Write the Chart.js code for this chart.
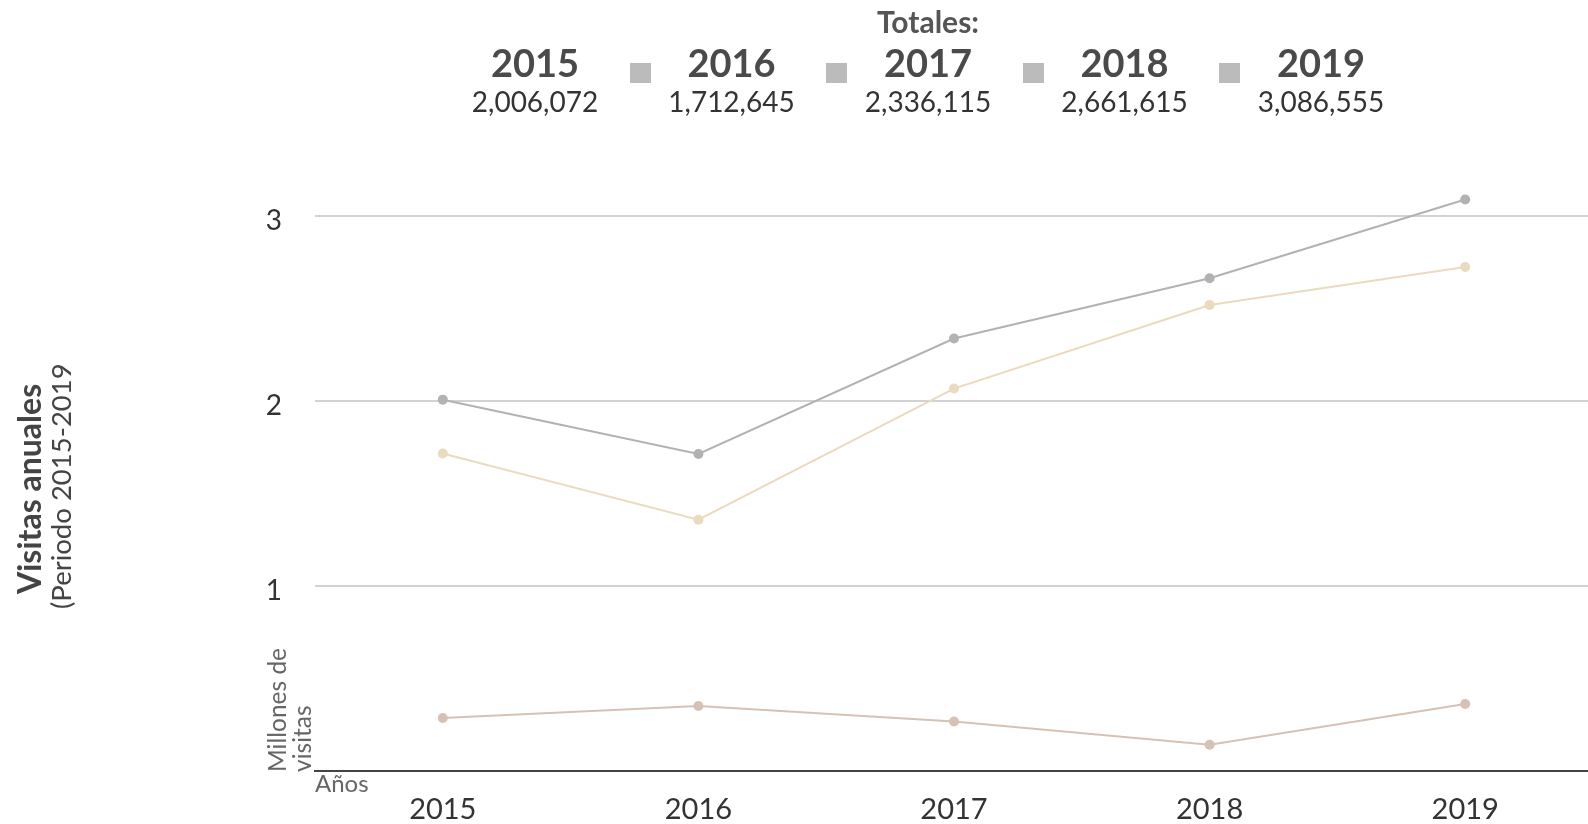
<!DOCTYPE html>
<html>
<head>
<meta charset="utf-8">
<script src="https://cdn.jsdelivr.net/npm/chart.js@4.4.0/dist/chart.umd.min.js"></script>
<style>
  body { margin: 0; background: #fff; overflow: hidden; font-family: Lato, "Open Sans", sans-serif; }
  #wrap { position: relative; width: 1588px; height: 824px; overflow: hidden; }
  #chartBox { position: absolute; left: 0; top: 0; width: 1598px; height: 848px; }
  #totTitle { position: absolute; left: 0; width: 1856px; top: 6px; text-align: center; font-weight: bold; font-size: 30px; line-height: 30px; color: #555; }
  #leyenda { position: absolute; left: 437px; top: 0; }
  .item { position: absolute; top: 0; width: 196px; text-align: center; }
  .item .anio { position: absolute; left: 0; width: 196px; top: 43px; font-size: 38px; line-height: 38px; font-weight: bold; color: #4a4a4a; }
  .item .num { position: absolute; left: 0; width: 196px; top: 87px; font-size: 28px; line-height: 28px; color: #333; }
  .item .cuadro { position: absolute; left: -4px; top: 63px; width: 21px; height: 20px; background: #bbb; }
  .rot { position: absolute; transform: rotate(-90deg); transform-origin: 0 0; white-space: nowrap; }
  #titulo1 { left: 13px; top: 594px; font-size: 32px; line-height: 32px; font-weight: bold; color: #444; }
  #titulo2 { left: 47px; top: 609px; font-size: 27.5px; line-height: 27.5px; color: #444; }
  #ejeY { left: 265px; top: 772px; font-size: 24.5px; line-height: 24.5px; color: #666; }
  #ejeX { position: absolute; left: 315px; top: 771px; font-size: 24px; line-height: 24px; color: #666; }
</style>
</head>
<body>
<div id="wrap">
  <div id="chartBox"><canvas id="visitasChart"></canvas></div>
  <div id="totTitle">Totales:</div>
  <div id="leyenda"></div>
  <div class="rot" id="titulo1">Visitas anuales</div>
  <div class="rot" id="titulo2">(Periodo 2015-2019</div>
  <div class="rot" id="ejeY">Millones de<br>visitas</div>
  <div id="ejeX">Años</div>
</div>
<script>
// datos
const anios = ['2015', '2016', '2017', '2018', '2019'];
const totales = [2006072, 1712645, 2336115, 2661615, 3086555];
const serieBeige = [1.715, 1.358, 2.066, 2.517, 2.722];
const serieCafe = [0.287, 0.352, 0.268, 0.143, 0.363];
const ticksY = [1, 2, 3];

// leyenda de totales
const leyenda = document.getElementById('leyenda');
anios.forEach(function(a, i) {
    const item = document.createElement('div');
    item.className = 'item';
    item.style.left = (i * 196.5) + 'px';
    item.innerHTML = (i > 0 ? '<div class="cuadro"></div>' : '') +
        '<div class="anio">' + a + '</div>' +
        '<div class="num">' + totales[i].toLocaleString('en-US') + '</div>';
    leyenda.appendChild(item);
});

const ctx = document.getElementById('visitasChart');
const serieTotal = totales.map(v => v / 1000000);

function linea(data, color) {
    return {
        data: data,
        borderColor: color,
        backgroundColor: color,
        pointBackgroundColor: color,
        pointBorderWidth: 0,
        pointRadius: 5,
        borderWidth: 2,
        tension: 0
    };
}

new Chart(ctx.getContext('2d'), {
    type: 'line',
    data: {
        labels: anios,
        datasets: [
            linea(serieTotal, '#b2b2b2'),
            linea(serieBeige, '#eadabe'),
            linea(serieCafe, '#d5c2b5')
        ]
    },
    options: {
        responsive: true,
        maintainAspectRatio: false,
        animation: false,
        layout: { padding: { top: 160, bottom: 0, left: 0, right: 0 } },
        plugins: {
            legend: { display: false },
            tooltip: { enabled: false }
        },
        scales: {
            x: {
                offset: true,
                grid: { display: false, drawTicks: false },
                border: { display: true, color: '#444', width: 2 },
                ticks: {
                    padding: 21,
                    color: '#333',
                    font: { family: 'Lato', size: 29, lineHeight: 1.2 }
                }
            },
            y: {
                min: 0,
                max: 3.3,
                afterFit: function(scale) { scale.width = 315; },
                afterBuildTicks: function(scale) {
                    scale.ticks = [0].concat(ticksY).map(v => ({ value: v }));
                },
                grid: {
                    drawTicks: false,
                    lineWidth: 2,
                    color: c => c.tick && c.tick.value === 0 ? 'rgba(0,0,0,0)' : '#d2d2d2'
                },
                border: { display: false },
                ticks: {
                    padding: 33,
                    labelOffset: 5,
                    color: '#333',
                    font: { family: 'Lato', size: 28 },
                    callback: v => v === 0 ? '' : v
                }
            }
        }
    }
});
</script>
</body>
</html>
